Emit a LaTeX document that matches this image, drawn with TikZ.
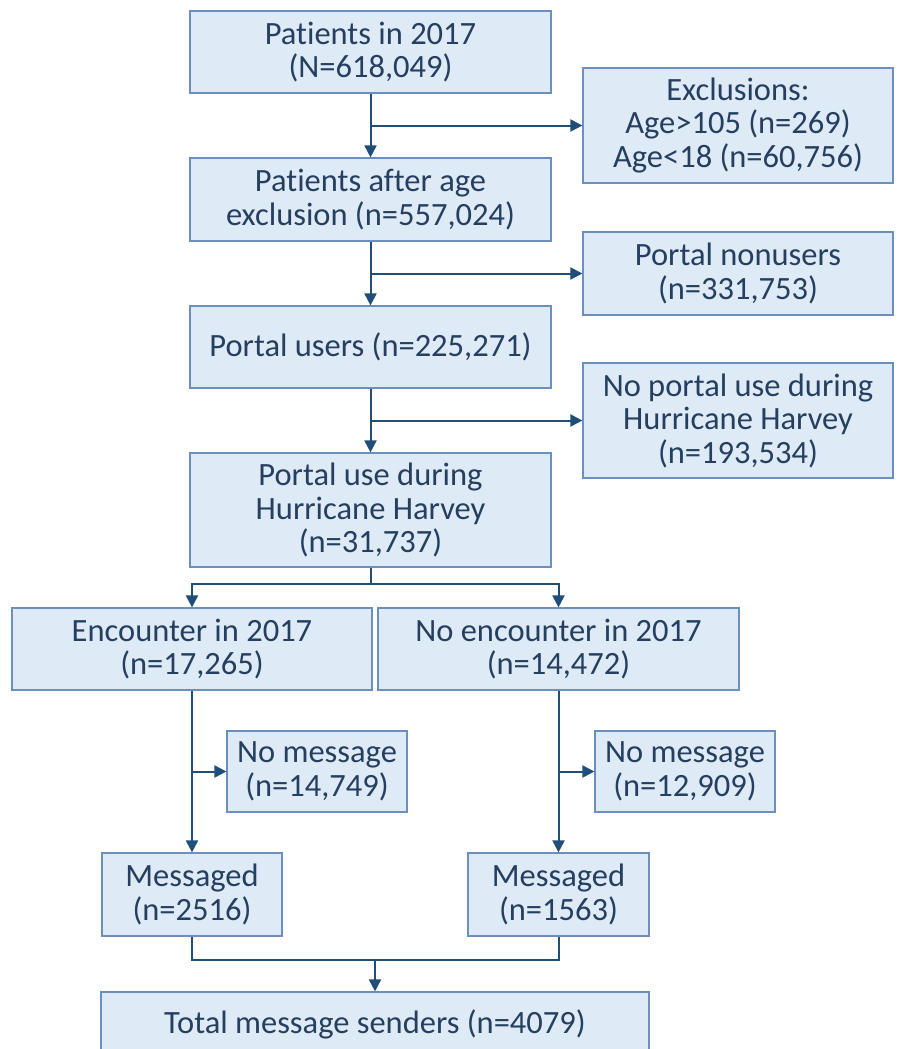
\documentclass[tikz,border=0pt]{standalone}
\usepackage{fontspec}
\setmainfont{Carlito}[Ligatures=NoCommon]
\usepackage{xcolor}
\usetikzlibrary{arrows.meta}

\definecolor{boxfill}{HTML}{DEEAF6}
\definecolor{boxline}{HTML}{6B8FBF}
\definecolor{arrowblue}{HTML}{1F4E79}
\definecolor{textblue}{HTML}{243F60}

\begin{document}
\begin{tikzpicture}[x=1pt, y=-1pt,
    box/.style 2 args={draw=boxline, fill=boxfill, line width=1.2pt, text=textblue,
        align=center, inner sep=0pt, minimum width=#1pt, minimum height=#2pt,
        font=\fontsize{32.5}{33.5}\selectfont},
    link/.style={draw=arrowblue, line width=2pt},
    flow/.style={link, -{Triangle[length=12pt, width=12pt]}}]
    \useasboundingbox (0,0) rectangle (897,1049);

    % main column
    \node [box={361}{82}] (all) at (370.5,52) {Patients in 2017\\(N=618,049)};
    \node [box={361}{83}] (adult) at (370.5,199.5) {Patients after age\\exclusion (n=557,024)};
    \node [box={361}{82}] (users) at (370.5,347) {Portal users (n=225,271)};
    \node [box={361}{114}] (harvey) at (370.5,510) {Portal use during\\Hurricane Harvey\\(n=31,737)};

    % exclusions on the right
    \node [box={310}{115}] (excl) at (738,125.5) {Exclusions:\\Age>105 (n=269)\\Age<18 (n=60,756)};
    \node [box={310}{83}] (nonusers) at (738,273.5) {Portal nonusers\\(n=331,753)};
    \node [box={310}{115}] (noharvey) at (738,420.5) {No portal use during\\Hurricane Harvey\\(n=193,534)};

    % encounter split
    \node [box={360}{82}] (enc) at (192,649) {Encounter in 2017\\(n=17,265)};
    \node [box={361}{82}] (noenc) at (558.5,649) {No encounter in 2017\\(n=14,472)};
    \node [box={180}{81}] (nomsgL) at (317,771.5) {No message\\(n=14,749)};
    \node [box={180}{81}] (nomsgR) at (685,771.5) {No message\\(n=12,909)};
    \node [box={180}{83}] (msgL) at (192,894.5) {Messaged\\(n=2516)};
    \node [box={181}{83}] (msgR) at (558.5,894.5) {Messaged\\(n=1563)};
    \node [box={548}{64}] (total) at (375,1024) {Total message senders (n=4079)};

    % connectors
    \draw [flow] (all) -- (adult);
    \draw [flow] (adult) -- (users);
    \draw [flow] (users) -- (harvey);
    \draw [flow] (all.south |- excl.west) -- (excl.west);
    \draw [flow] (adult.south |- nonusers.west) -- (nonusers.west);
    \draw [flow] (users.south |- noharvey.west) -- (noharvey.west);

    \draw [link] (harvey.south) -- ++(0,16) coordinate (split);
    \draw [flow] (split) -| (enc.north);
    \draw [flow] (split) -| (noenc.north);

    \draw [flow] (enc) -- (msgL);
    \draw [flow] (noenc) -- (msgR);
    \draw [flow] (enc.south |- nomsgL.west) -- (nomsgL.west);
    \draw [flow] (noenc.south |- nomsgR.west) -- (nomsgR.west);

    \coordinate (join) at (total.north |- 0,960);
    \draw [link] (msgL.south) |- (join) -| (msgR.south);
    \draw [flow] (join) -- (total.north);
\end{tikzpicture}
\end{document}
